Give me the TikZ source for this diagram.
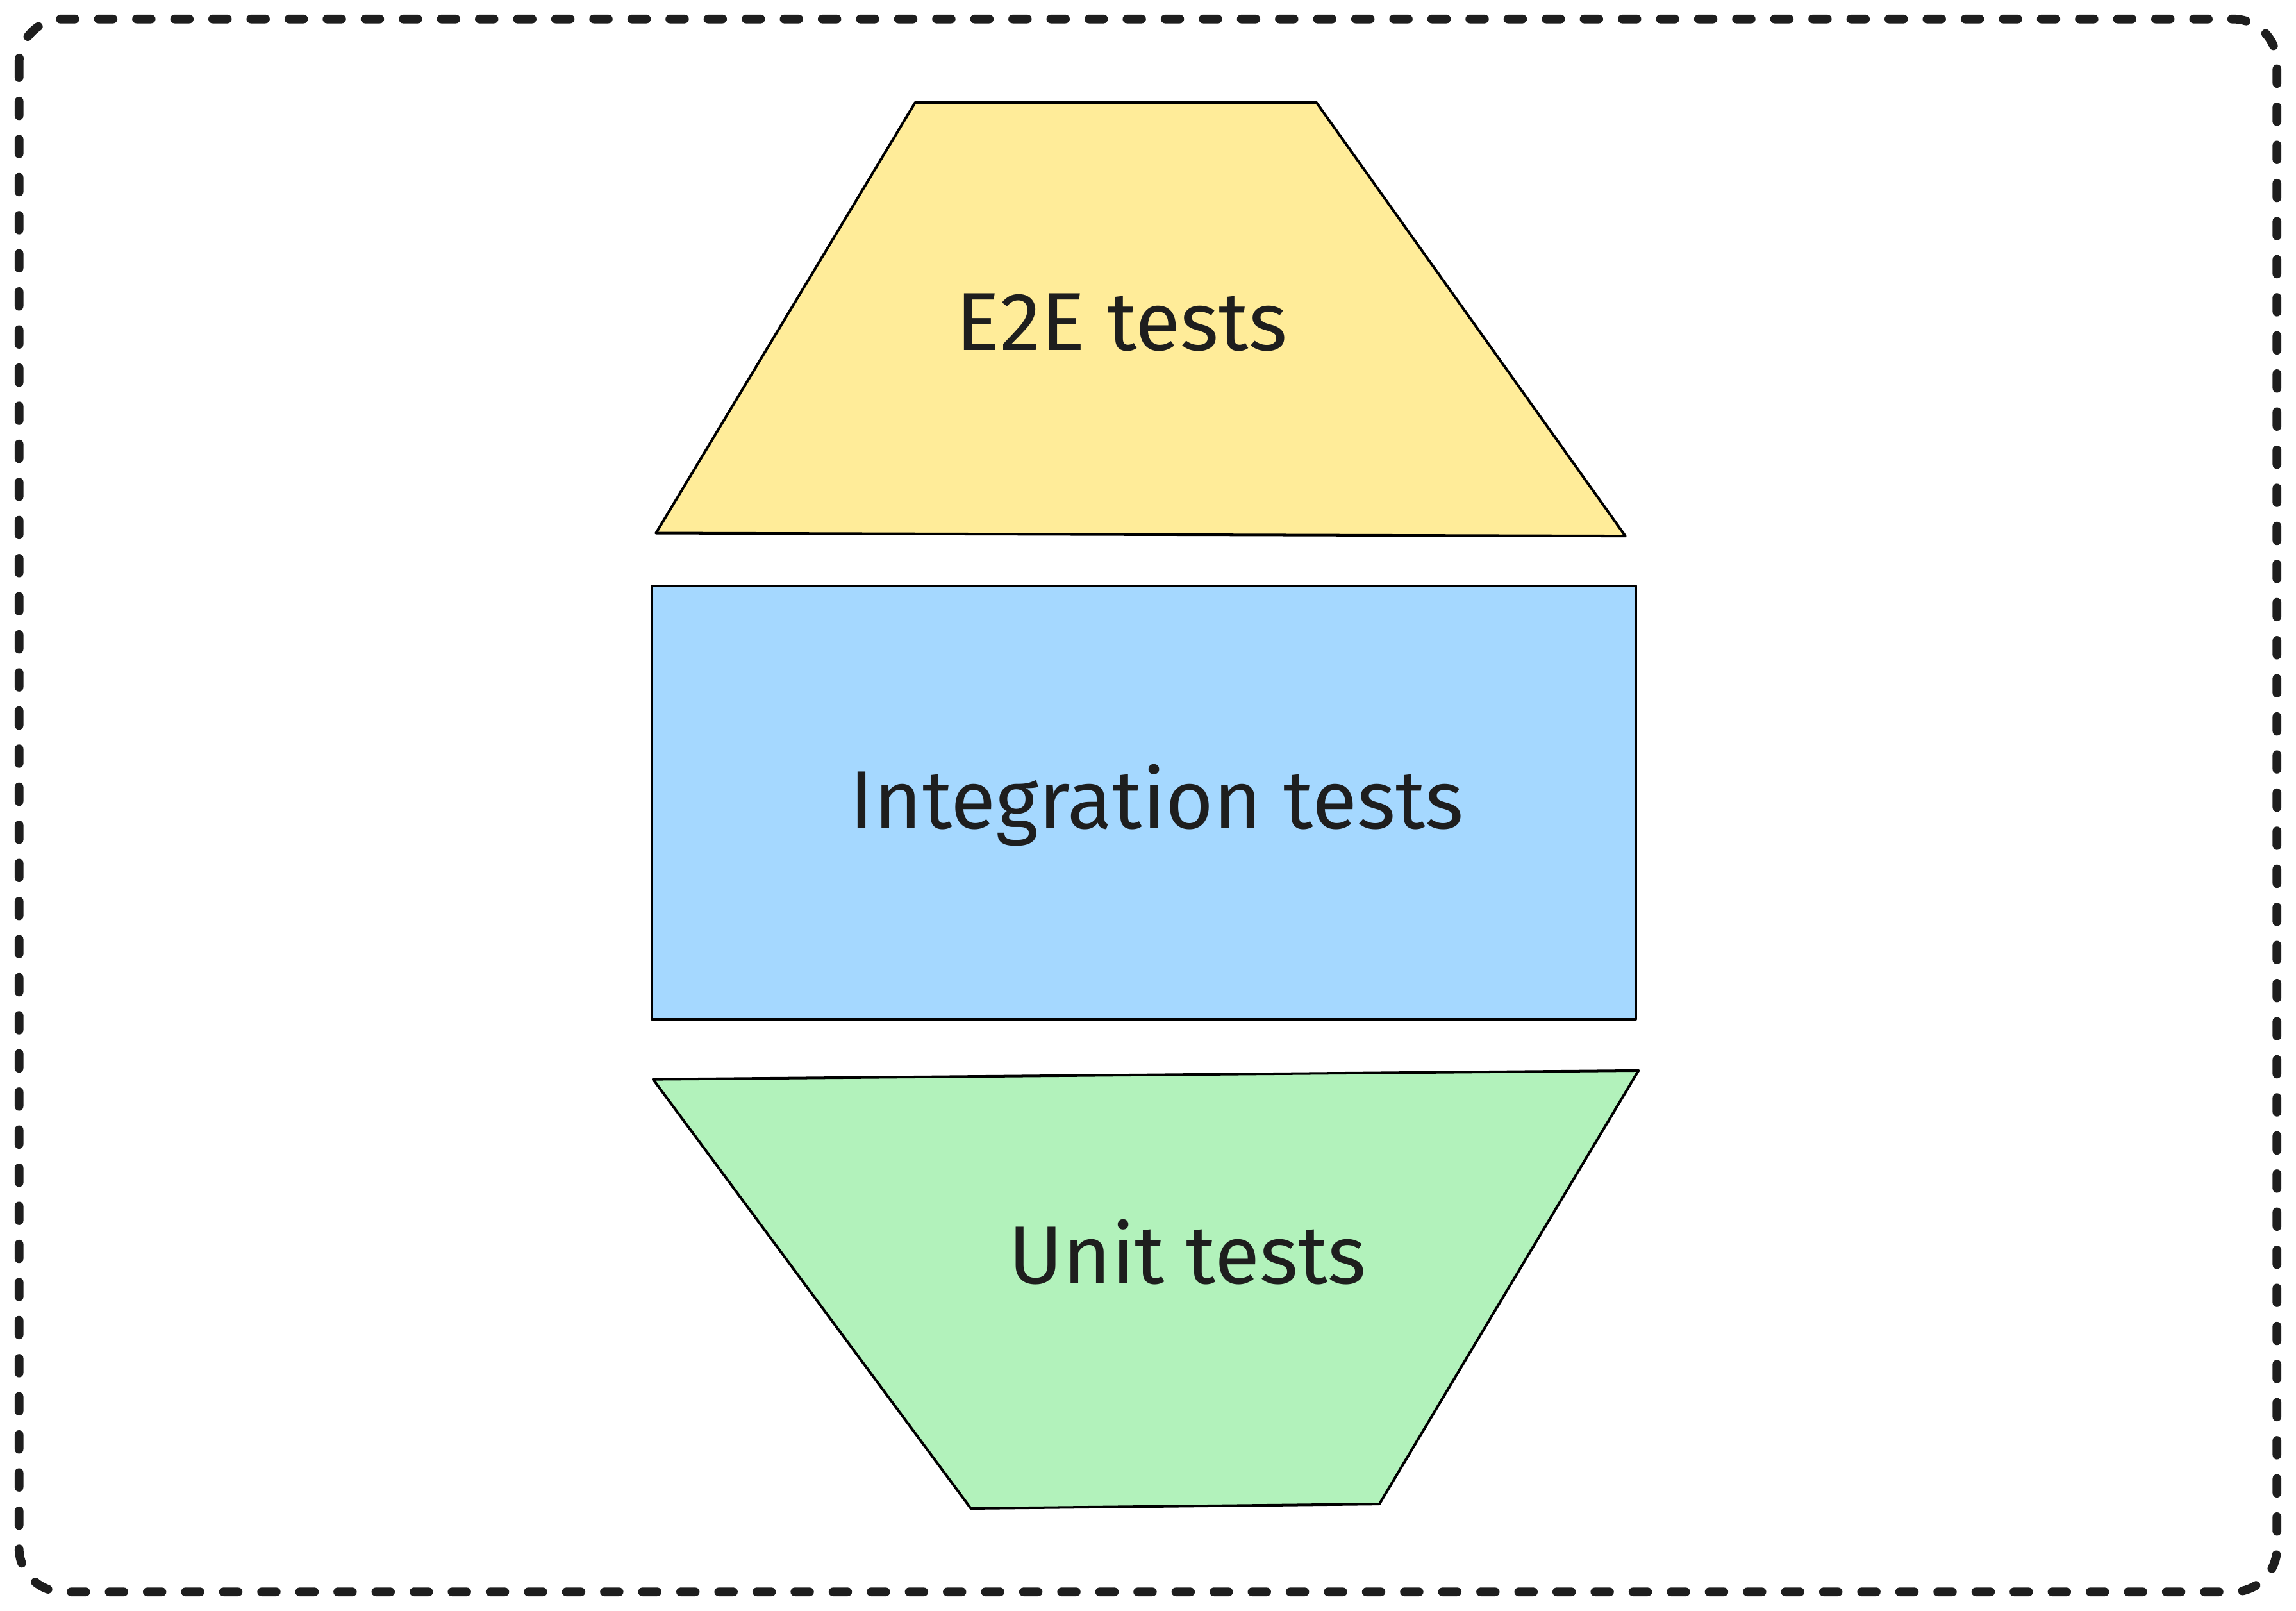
\documentclass[tikz,border=0pt]{standalone}
\usepackage{fontspec}
\setmainfont{Fira Sans}
\usepackage{tikz}
\definecolor{ink}{HTML}{1E1E1E}
\definecolor{e2efill}{HTML}{FFEC99}
\definecolor{intfill}{HTML}{A5D8FF}
\definecolor{unitfill}{HTML}{B2F2BB}
\tikzstyle{frame} = [draw=ink, line width=1.7pt, line cap=round, dash pattern=on 0.1cm off 0.16cm, rounded corners=0.3cm]
\tikzstyle{layer} = [draw=black, line width=0.5pt, line join=round]
\tikzstyle{label} = [text=ink, font=\fontsize{16}{19}\selectfont]

\begin{document}
\begin{tikzpicture}[x=0.01cm, y=-0.01cm]
\useasboundingbox (0,0) rectangle (1568,1100);
\draw [frame] (13,13) rectangle (1555,1087);

\draw [layer, fill=e2efill] (625,70) -- (899,70) -- (1110,366) -- (448,364) -- cycle;
\draw [layer, fill=intfill] (445,400) rectangle (1117,696);
\draw [layer, fill=unitfill] (446,737) -- (1119,731) -- (942,1027) -- (663,1030) -- cycle;

\node (e2e) [label] at (766,220) {E2E tests};
\node (integration) [label] at (790,550) {Integration tests};
\node (unit) [label] at (811,855) {Unit tests};
\end{tikzpicture}
\end{document}
